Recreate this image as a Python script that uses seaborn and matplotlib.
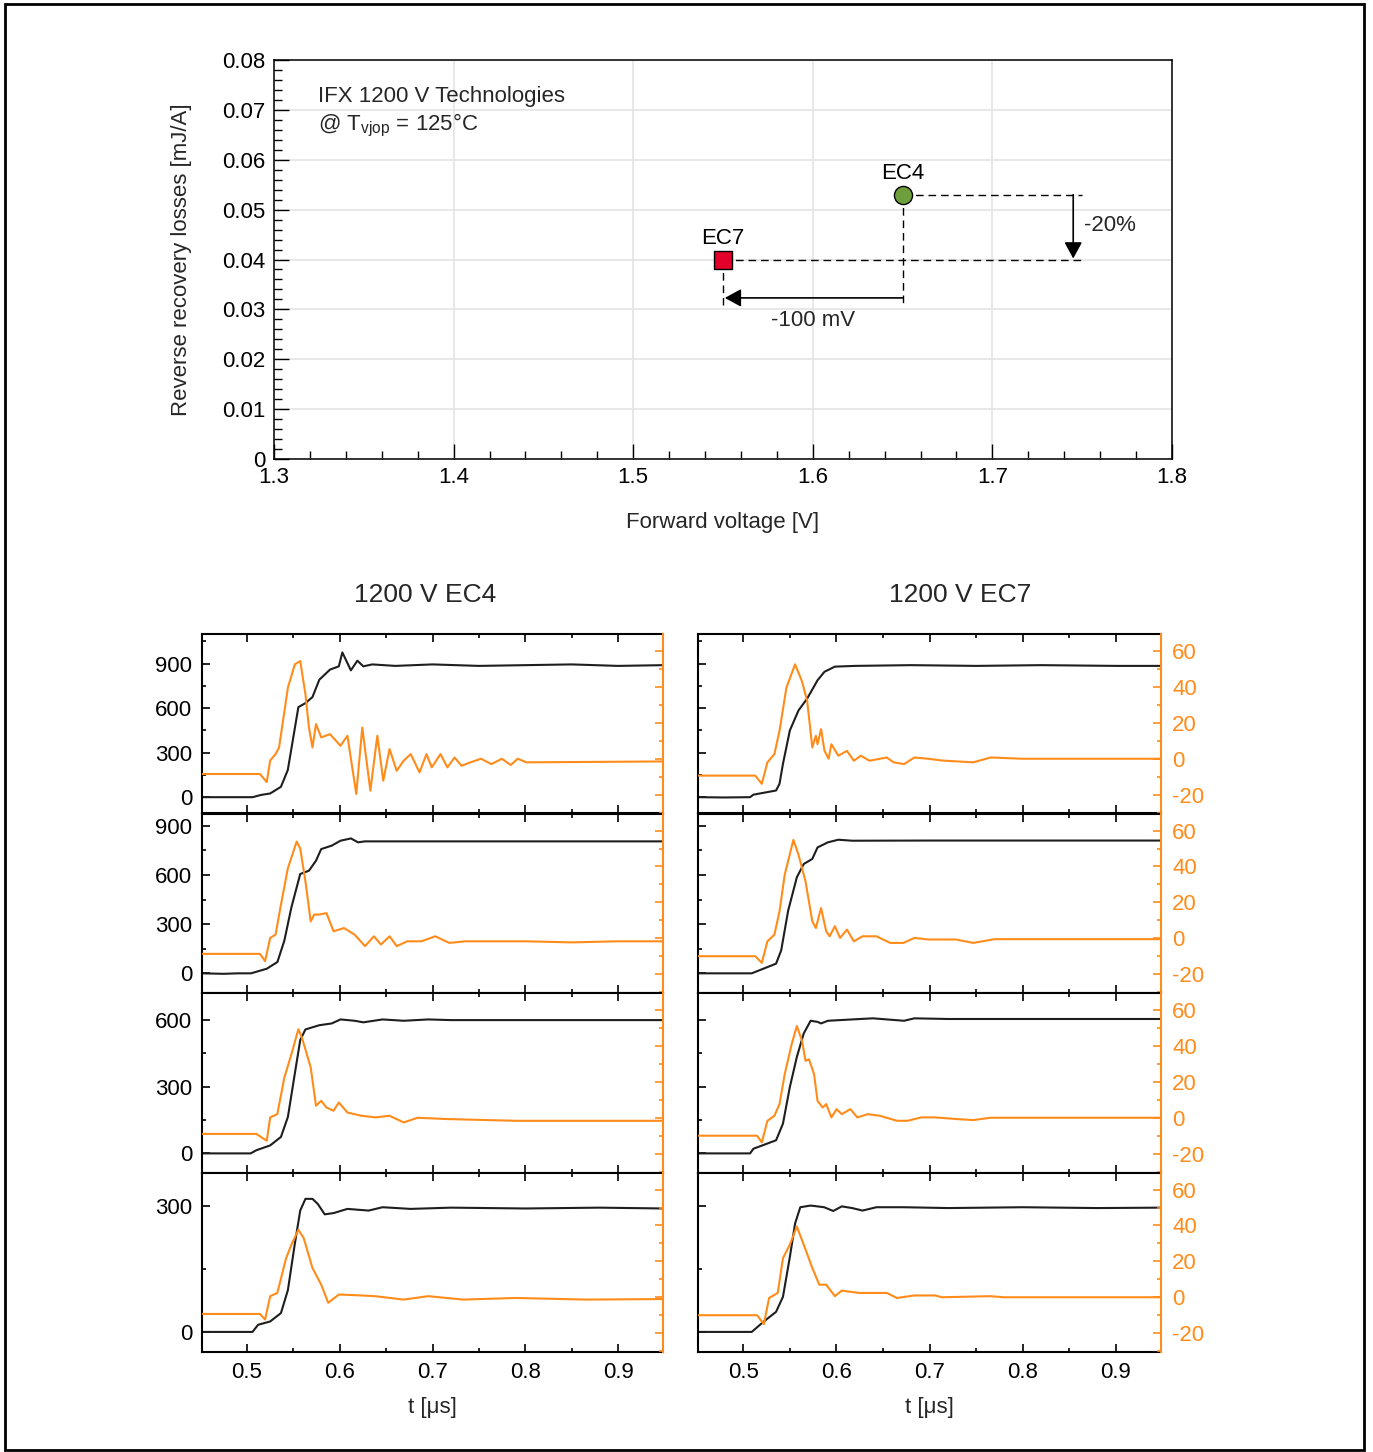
import matplotlib

matplotlib.use("Agg")
import matplotlib.pyplot as plt
import pandas as pd
import seaborn as sns
from matplotlib.patches import Rectangle
from matplotlib.ticker import MultipleLocator, FuncFormatter

# --- top chart: forward voltage vs reverse recovery losses ---
techs = ["EC4", "EC7"]
vf = [1.65, 1.55]
err = [0.053, 0.040]
tech_colors = ["#6f9e3c", "#e2002a"]
tech_markers = ["o", "s"]

# --- switching waveforms (t in us, voltage in V, current in A) ---
ec4_900_v = [(0.451, 0), (0.506, 0), (0.515, 15), (0.525, 25), (0.5366, 70), (0.544, 183),
             (0.5554, 607), (0.563, 634), (0.5706, 675), (0.578, 792), (0.5895, 860), (0.599, 882),
             (0.6028, 976), (0.612, 855), (0.619, 920), (0.6254, 882), (0.635, 895), (0.66, 885),
             (0.70, 895), (0.75, 885), (0.80, 890), (0.85, 895), (0.90, 885), (0.949, 890)]
ec4_900_i = [(0.451, -8.5), (0.514, -8.5), (0.5213, -13), (0.525, -1), (0.5308, 2.6), (0.5346, 6.3),
             (0.5441, 39.6), (0.5516, 52.6), (0.5574, 54.4), (0.563, 36), (0.5668, 17.4), (0.5706, 6.3),
             (0.5744, 19.3), (0.58, 11.9), (0.5895, 13.7), (0.6008, 7.2), (0.6083, 12.8), (0.6178, -19.6),
             (0.6243, 17.4), (0.633, -17.8), (0.6405, 12.8), (0.6469, -12.2), (0.6537, 5.4), (0.6614, -6.7),
             (0.6689, -1.1), (0.6765, 2.6), (0.686, -7.6), (0.6935, 2.6), (0.6992, -4.8), (0.7086, 2.6),
             (0.7161, -4.8), (0.7238, 0.7), (0.7313, -3.9), (0.7409, -2), (0.7523, 0), (0.7635, -3),
             (0.7748, 0), (0.7843, -3.5), (0.7919, 0), (0.8013, -2), (0.949, -1.5)]

ec4_800_v = [(0.451, 0), (0.475, -3), (0.49, 0), (0.5043, 0), (0.5213, 28), (0.5328, 69), (0.5403, 200),
             (0.5479, 403), (0.5574, 606), (0.5668, 626), (0.5744, 687), (0.58, 758), (0.5914, 779),
             (0.6008, 809), (0.6121, 823), (0.6197, 799), (0.627, 805), (0.70, 805), (0.80, 805), (0.949, 805)]
ec4_800_i = [(0.451, -8.7), (0.514, -8.7), (0.5195, -12.8), (0.525, 0.2), (0.5308, 2), (0.5366, 18.7),
             (0.5441, 39), (0.5536, 53.9), (0.5574, 50), (0.563, 31.7), (0.5687, 9.4), (0.5725, 13.2),
             (0.578, 13.2), (0.5857, 14), (0.5933, 3.9), (0.6046, 5.7), (0.616, 2), (0.6273, -4.4),
             (0.6368, 1.1), (0.6444, -3.5), (0.6537, 1.1), (0.6614, -4.4), (0.6727, -1.7), (0.688, -1.7),
             (0.703, 1.1), (0.7181, -2.6), (0.735, -1.7), (0.80, -1.7), (0.85, -2.3), (0.90, -1.7), (0.949, -1.7)]

ec4_600_v = [(0.451, 0), (0.504, 0), (0.51, 14), (0.525, 36), (0.5366, 74), (0.5441, 164), (0.5516, 360),
             (0.5574, 510), (0.563, 558), (0.578, 577), (0.5914, 585), (0.6008, 603), (0.616, 597),
             (0.6254, 590), (0.6462, 603), (0.6689, 597), (0.6954, 603), (0.72, 600), (0.949, 600)]
ec4_600_i = [(0.451, -9), (0.51, -9), (0.5213, -12.8), (0.525, 0.2), (0.5327, 2), (0.5403, 22.4),
             (0.5479, 35.4), (0.5554, 49.3), (0.5592, 44.6), (0.563, 38.1), (0.5687, 28), (0.5744, 6.7),
             (0.58, 9.4), (0.5857, 5.7), (0.5933, 3.9), (0.599, 8.5), (0.6083, 2.9), (0.6235, 1.1),
             (0.6387, 0.2), (0.6537, 1.1), (0.6689, -2.6), (0.684, 0), (0.7143, -0.7), (0.79, -1.7), (0.949, -1.7)]

ec4_300_v = [(0.451, 0), (0.506, 0), (0.5119, 17), (0.525, 25), (0.5366, 45), (0.5441, 100), (0.5516, 211),
             (0.5574, 290), (0.563, 318), (0.5706, 318), (0.5763, 306), (0.5838, 281), (0.5933, 284),
             (0.6083, 294), (0.6311, 290), (0.6462, 298), (0.6765, 294), (0.72, 297), (0.80, 295),
             (0.88, 297), (0.949, 295)]
ec4_300_i = [(0.451, -9.3), (0.514, -9.3), (0.5195, -12.4), (0.525, 0.6), (0.5327, 2.4), (0.5422, 21.8),
             (0.5479, 29.3), (0.5554, 37.6), (0.5611, 33), (0.5706, 16.3), (0.58, 7), (0.5876, -3.1),
             (0.599, 1.5), (0.6197, 1.1), (0.638, 0.6), (0.6689, -1.3), (0.6954, 0.6), (0.7333, -1.3),
             (0.79, -0.4), (0.866, -1.3), (0.949, -1)]

ec7_900_v = [(0.452, 0), (0.48, -2), (0.5074, 0), (0.511, 17), (0.5353, 45), (0.539, 90), (0.5427, 225),
             (0.5501, 450), (0.5594, 585), (0.5687, 665), (0.5798, 788), (0.5872, 845), (0.5984, 880),
             (0.62, 885), (0.68, 890), (0.75, 885), (0.82, 890), (0.90, 885), (0.949, 885)]
ec7_900_i = [(0.452, -9.4), (0.513, -9.4), (0.52, -14), (0.526, -2), (0.5335, 2.6), (0.539, 15.6),
             (0.5464, 39.6), (0.5557, 52.6), (0.563, 43.3), (0.5687, 32.2), (0.5742, 6.3), (0.578, 12.8),
             (0.5798, 8.1), (0.5836, 16.5), (0.5873, 4.4), (0.5917, 0), (0.5947, 8.1), (0.6021, 1.7),
             (0.6114, 4.4), (0.6188, -1.1), (0.6263, 1.7), (0.6355, -1.1), (0.654, 0.7), (0.6615, -2),
             (0.6726, -3), (0.6838, 0.7), (0.6986, 0), (0.7135, -1), (0.7469, -2), (0.7655, 0.7),
             (0.80, 0), (0.949, 0)]

ec7_800_v = [(0.452, 0), (0.5092, 0), (0.5353, 59), (0.5408, 140), (0.5483, 383), (0.5576, 586),
             (0.565, 667), (0.5742, 698), (0.5798, 768), (0.5909, 799), (0.6021, 815), (0.617, 809),
             (0.70, 810), (0.949, 810)]
ec7_800_i = [(0.452, -10), (0.513, -10), (0.52, -13.7), (0.526, -1.7), (0.5335, 2), (0.539, 15),
             (0.5446, 35.4), (0.5539, 54.8), (0.5594, 46.5), (0.5669, 31.7), (0.5742, 9.4), (0.578, 5.7),
             (0.5836, 16.8), (0.5891, 3.9), (0.5928, 1.1), (0.5984, 6.7), (0.604, 0.2), (0.6114, 4.8),
             (0.6188, -1.7), (0.6281, 1.1), (0.643, 1.1), (0.6578, -2.6), (0.672, -2.6), (0.6838, 0.2),
             (0.6986, -0.7), (0.7284, -0.7), (0.7469, -2.6), (0.77, -0.5), (0.949, -0.5)]

ec7_600_v = [(0.452, 0), (0.5074, 0), (0.511, 21), (0.5353, 59), (0.5427, 134), (0.5501, 299),
             (0.5576, 434), (0.565, 540), (0.5724, 597), (0.5798, 592), (0.5836, 585), (0.5909, 597),
             (0.617, 603), (0.6392, 608), (0.6726, 597), (0.6838, 608), (0.72, 605), (0.949, 605)]
ec7_600_i = [(0.452, -10), (0.5149, -10), (0.52, -13.7), (0.526, -1.7), (0.5335, 1.1), (0.539, 7.6),
             (0.5446, 24.3), (0.552, 40.9), (0.5576, 51.1), (0.5632, 42.8), (0.5669, 31.7), (0.5706, 32.6),
             (0.5761, 24.3), (0.5798, 9.4), (0.5854, 5.7), (0.5891, 7.6), (0.5947, 0.2), (0.6003, 4.8),
             (0.6058, 2), (0.6151, 4.8), (0.6225, 0.2), (0.6337, 2), (0.6467, 1.1), (0.6652, -1.7),
             (0.6764, -1.7), (0.6913, 0.2), (0.7061, 0.2), (0.7284, -0.7), (0.7469, -1.3), (0.7655, 0),
             (0.949, 0)]

ec7_300_v = [(0.452, 0), (0.5092, 0), (0.5222, 25), (0.5353, 48), (0.5427, 84), (0.5501, 179),
             (0.5557, 259), (0.5613, 298), (0.5724, 302), (0.587, 298), (0.5966, 289), (0.6058, 300),
             (0.617, 296), (0.6281, 290), (0.643, 298), (0.672, 298), (0.72, 296), (0.80, 298),
             (0.88, 296), (0.949, 297)]
ec7_300_i = [(0.452, -10), (0.5149, -10), (0.5222, -15), (0.5278, -0.4), (0.5371, 2.4), (0.5427, 21.8),
             (0.5501, 29.3), (0.5576, 39.4), (0.565, 29.3), (0.5742, 16.3), (0.5817, 7), (0.5891, 7),
             (0.5984, 0.6), (0.6058, 3.7), (0.6244, 2.4), (0.654, 2.4), (0.6652, -0.4), (0.6838, 1),
             (0.706, 1), (0.7135, 0), (0.7655, 0.6), (0.78, 0), (0.949, 0)]

row_vlims = [(-110, 1100), (-120, 975), (-86, 722), (-48, 381)]
col_titles = ["1200 V EC4", "1200 V EC7"]
panels = [[(ec4_900_v, ec4_900_i), (ec4_800_v, ec4_800_i), (ec4_600_v, ec4_600_i), (ec4_300_v, ec4_300_i)],
          [(ec7_900_v, ec7_900_i), (ec7_800_v, ec7_800_i), (ec7_600_v, ec7_600_i), (ec7_300_v, ec7_300_i)]]

ORANGE = "#ff8c1a"
W, H = 1373, 1452

sns.set_theme(style="white", font="Liberation Sans")
plt.rcParams["font.family"] = ["Liberation Sans", "DejaVu Sans"]
plt.rcParams["mathtext.fontset"] = "custom"
plt.rcParams["mathtext.rm"] = "Liberation Sans"
plt.rcParams["mathtext.it"] = "Liberation Sans:italic"
plt.rcParams["axes.unicode_minus"] = False

fig = plt.figure(figsize=(W / 100, H / 100), dpi=100)
fig.patches.append(Rectangle((5 / W, 1 - 1450 / H), 1359 / W, 1446 / H, transform=fig.transFigure,
                             fill=False, edgecolor="black", linewidth=2, zorder=10))

# ---------------- top chart ----------------
ax = fig.add_axes([274 / W, 1 - 459 / H, 898 / W, 399 / H])
for name, x, y, c, m in zip(techs, vf, err, tech_colors, tech_markers):
    sns.scatterplot(x=[x], y=[y], marker=m, s=170, color=c, edgecolor="black", linewidth=1,
                    ax=ax, zorder=6)
    ax.text(x, y + 0.0042, name, ha="center", va="center", fontsize=16, color="black")

bracket_x = 1.75
arrow_y = 0.0323
dash_end = 0.0309
dash_kw = dict(color="black", lw=1, dashes=(5.5, 3.5), zorder=4)
for x, y in zip(vf, err):
    ax.plot([x, bracket_x], [y, y], **dash_kw)
    ax.plot([x, x], [y, dash_end], **dash_kw)
head = "-|>,head_length=0.55,head_width=0.3"
ax.annotate("", xy=(vf[1] + 0.001, arrow_y), xytext=(vf[0], arrow_y),
            arrowprops=dict(arrowstyle=head, color="black", lw=1.2, mutation_scale=18,
                            shrinkA=0, shrinkB=0), zorder=5)
ax.annotate("", xy=(bracket_x - 0.005, err[1] + 0.0002), xytext=(bracket_x - 0.005, err[0]),
            arrowprops=dict(arrowstyle=head, color="black", lw=1.2, mutation_scale=18,
                            shrinkA=0, shrinkB=0), zorder=5)
ax.text(1.7655, 0.0469, "-20%", ha="center", va="center", fontsize=16)
ax.text(1.6, 0.0277, "-100 mV", ha="center", va="center", fontsize=16)
ax.text(1.3245, 0.0727, "IFX 1200 V Technologies", ha="left", va="center", fontsize=16)
ax.text(1.3245, 0.0668, r"@ T$_{\mathrm{vjop}}$ = 125°C", ha="left", va="center", fontsize=16)

ax.set_xlim(1.3, 1.8)
ax.set_ylim(0, 0.08)
ax.xaxis.set_major_locator(MultipleLocator(0.1))
ax.xaxis.set_minor_locator(MultipleLocator(0.02))
ax.yaxis.set_major_locator(MultipleLocator(0.01))
ax.yaxis.set_minor_locator(MultipleLocator(0.002))
fmt = FuncFormatter(lambda v, p: f"{v:.2f}".rstrip("0").rstrip(".") if v != 0 else "0")
ax.yaxis.set_major_formatter(fmt)
ax.xaxis.set_major_formatter(FuncFormatter(lambda v, p: f"{v:.1f}"))
ax.tick_params(which="both", direction="in", top=False, right=False, bottom=True, left=True,
               colors="black", labelsize=16, width=1)
ax.tick_params(which="major", length=11, pad=6)
ax.tick_params(which="minor", length=5.5)
ax.grid(True, which="major", color="#e4e4e4", lw=1.2)
ax.set_axisbelow(True)
for s in ax.spines.values():
    s.set_color("black")
    s.set_linewidth(1.1)
ax.set_xlabel("Forward voltage [V]", fontsize=16, labelpad=17)
ax.set_ylabel("Reverse recovery losses [mJ/A]", fontsize=16, labelpad=22)

# ---------------- waveform panels ----------------
col_x = [(202, 461), (698, 463)]
row_h = 179.5
title_x = [425, 960]
for c, (x0, w) in enumerate(col_x):
    fig.text(title_x[c] / W, 1 - 595 / H, col_titles[c], ha="center", va="center", fontsize=19)
    for r in range(4):
        top = 634 + row_h * r
        axv = fig.add_axes([x0 / W, 1 - (top + row_h) / H, w / W, row_h / H])
        axi = axv.twinx()
        v_pairs, i_pairs = panels[c][r]
        dfv = pd.DataFrame(v_pairs, columns=["t", "y"])
        dfi = pd.DataFrame(i_pairs, columns=["t", "y"])
        sns.lineplot(data=dfv, x="t", y="y", ax=axv, color="#1e1e1e", lw=1.5,
                     sort=False, estimator=None)
        sns.lineplot(data=dfi, x="t", y="y", ax=axi, color=ORANGE, lw=1.5,
                     sort=False, estimator=None)
        axv.set_xlim(0.4515, 0.9485)
        axv.set_ylim(*row_vlims[r])
        axi.set_ylim(-30.5, 69.5)
        axv.set_ylabel("")
        axi.set_ylabel("")
        axv.xaxis.set_major_locator(MultipleLocator(0.1))
        axv.xaxis.set_minor_locator(MultipleLocator(0.05))
        axv.yaxis.set_major_locator(MultipleLocator(300))
        axv.yaxis.set_minor_locator(MultipleLocator(150))
        axi.yaxis.set_major_locator(MultipleLocator(20))
        axi.yaxis.set_minor_locator(MultipleLocator(10))
        axv.xaxis.set_major_formatter(FuncFormatter(lambda v, p: f"{v:.1f}"))
        axv.tick_params(which="both", direction="in", top=True, bottom=True, left=True, right=False,
                        colors="black", labelsize=16, width=1.2, pad=7,
                        labelleft=(c == 0), labelbottom=(r == 3))
        axv.tick_params(which="major", length=6)
        axv.tick_params(which="minor", length=3)
        axi.tick_params(which="both", direction="in", right=True, left=False, color=ORANGE,
                        labelcolor=ORANGE, labelsize=16, width=1.2, pad=8, labelright=(c == 1))
        axi.tick_params(which="major", length=6)
        axi.tick_params(which="minor", length=3)
        for s in axv.spines.values():
            s.set_color("black")
            s.set_linewidth(1.5)
        axv.spines["right"].set_visible(False)
        for k in ["left", "top", "bottom"]:
            axi.spines[k].set_visible(False)
        axi.spines["right"].set_color(ORANGE)
        axi.spines["right"].set_linewidth(1.5)
        if r == 3:
            axv.set_xlabel("t [μs]", fontsize=16, labelpad=10)
        else:
            axv.set_xlabel("")

fig.savefig("out.png", dpi=100)
